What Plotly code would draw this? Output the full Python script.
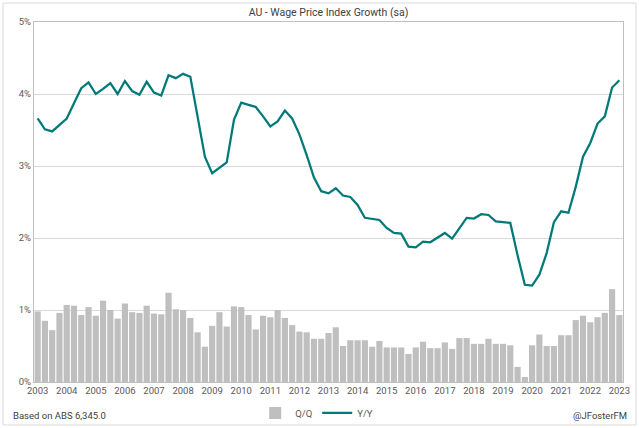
import plotly.graph_objects as go

# Quarterly categories: Dec-2003 ... Dec-2023
quarters = [f"{y}Q{q}" for y in range(2003, 2024) for q in (1, 2, 3, 4)]
quarters = quarters[quarters.index("2003Q4"):quarters.index("2023Q4") + 1]

qq = [0.98, 0.85, 0.72, 0.96, 1.07, 1.06, 0.93, 1.04, 0.92, 1.13,
      1.00, 0.88, 1.09, 0.97, 0.96, 1.06, 0.95, 0.94, 1.24, 1.01,
      1.00, 0.89, 0.69, 0.49, 0.78, 0.97, 0.77, 1.05, 1.04, 0.93,
      0.73, 0.92, 0.90, 1.00, 0.89, 0.79, 0.70, 0.69, 0.60, 0.60,
      0.68, 0.76, 0.50, 0.58, 0.58, 0.58, 0.49, 0.57, 0.48, 0.48,
      0.48, 0.39, 0.48, 0.56, 0.47, 0.47, 0.55, 0.46, 0.61, 0.61,
      0.53, 0.53, 0.60, 0.53, 0.53, 0.51, 0.21, 0.07, 0.51, 0.66,
      0.50, 0.50, 0.65, 0.65, 0.86, 0.92, 0.83, 0.90, 0.96, 1.29,
      0.93]

yy = [3.66, 3.51, 3.48, 3.57, 3.66, 3.87, 4.08, 4.16, 4.00, 4.07,
      4.15, 4.00, 4.18, 4.04, 3.99, 4.17, 4.02, 3.98, 4.26, 4.22,
      4.28, 4.24, 3.69, 3.13, 2.90, 2.97, 3.05, 3.64, 3.88, 3.85,
      3.82, 3.69, 3.55, 3.62, 3.77, 3.66, 3.44, 3.15, 2.84, 2.65,
      2.62, 2.69, 2.59, 2.57, 2.46, 2.28, 2.27, 2.25, 2.14, 2.07,
      2.06, 1.88, 1.87, 1.95, 1.94, 2.00, 2.07, 1.99, 2.13, 2.28,
      2.27, 2.33, 2.32, 2.23, 2.22, 2.21, 1.76, 1.35, 1.34, 1.49,
      1.79, 2.22, 2.37, 2.35, 2.71, 3.13, 3.32, 3.59, 3.69, 4.09,
      4.19]

tick_years = [str(y) for y in range(2003, 2024)]
tick_quarters = [f"{y}Q4" for y in tick_years]
y_ticks = [0, 1, 2, 3, 4, 5]
y_ticktext = ["0%", "1%", "2%", "3%", "4%", "5%"]

FONT = "Roboto"
TXT = "#595959"

fig = go.Figure()
fig.add_trace(go.Bar(x=quarters, y=qq, name="Q/Q",
                     marker=dict(color="#BFBFBF", line=dict(width=0))))
fig.add_trace(go.Scatter(x=quarters, y=yy, name="Y/Y", mode="lines",
                         line=dict(color="#007A78", width=2.25)))

fig.update_layout(
    template="none",
    width=639, height=428, autosize=False,
    margin=dict(l=34, r=16, t=22, b=46, autoexpand=False),
    paper_bgcolor="white", plot_bgcolor="white",
    bargap=0.15,
    font=dict(family=FONT, size=9.5, color=TXT),
    title=dict(text="AU - Wage Price Index Growth (sa)", x=0.5, xanchor="center",
               xref="paper", y=1 - 12 / 428, yanchor="middle",
               font=dict(family=FONT, size=10.5, color="#404040")),
    showlegend=True,
    legend=dict(orientation="h", x=0.48, xanchor="center", y=-0.086,
                yanchor="middle", font=dict(size=9.5, color=TXT),
                itemwidth=30, bgcolor="rgba(0,0,0,0)", borderwidth=0),
    xaxis=dict(type="category", tickmode="array", tickvals=tick_quarters,
               ticktext=tick_years, tickangle=0, showgrid=False,
               automargin=False,
               showline=True, linecolor="#BFBFBF", linewidth=1, mirror=True,
               ticks="", tickfont=dict(size=9.5, color=TXT)),
    yaxis=dict(range=[0, 5], tickmode="array", tickvals=y_ticks,
               ticktext=y_ticktext, automargin=False,
               showgrid=True, gridcolor="#D9D9D9", gridwidth=1,
               zeroline=False, showline=True, linecolor="#BFBFBF",
               linewidth=1, mirror=True, ticks="",
               tickfont=dict(size=9.5, color=TXT)),
    annotations=[
        dict(text="Based on ABS 6,345.0", xref="paper", yref="paper",
             x=-0.039, y=-0.092, xanchor="left", yanchor="middle",
             showarrow=False, font=dict(size=9.5, color="#404040")),
        dict(text="@JFosterFM", xref="paper", yref="paper",
             x=1.010, y=-0.092, xanchor="right", yanchor="middle",
             showarrow=False, font=dict(size=9.5, color="#404040")),
    ],
    shapes=[dict(type="rect", xref="paper", yref="paper",
                 x0=-31 / 589, x1=1 + 13 / 589, y0=-43 / 360, y1=1 + 19 / 360,
                 line=dict(color="#D9D9D9", width=1), fillcolor="rgba(0,0,0,0)",
                 layer="below")],
)

fig.write_html("out.html",
               config={"displayModeBar": False},
               post_script="document.body.style.margin='0';"
                           "document.body.style.overflow='hidden';")
